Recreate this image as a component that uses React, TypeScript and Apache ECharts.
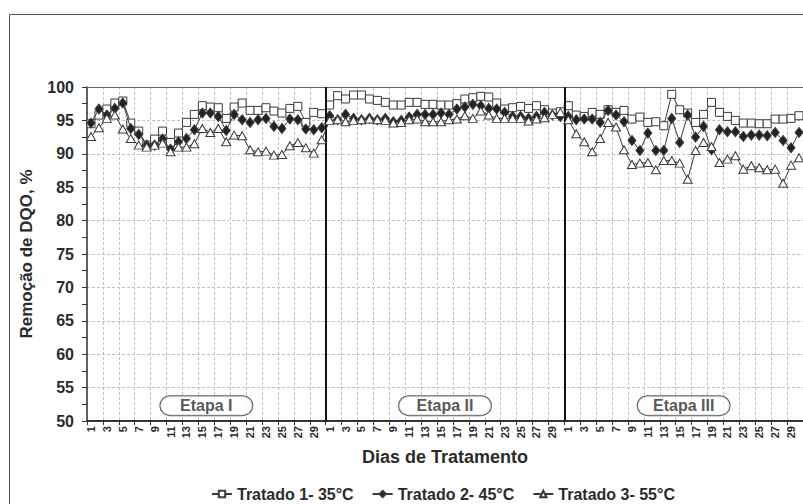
import React, { useEffect, useRef } from 'react';
import * as echarts from 'echarts';

const DAYS = ['1','2','3','4','5','6','7','8','9','10','11','12','13','14','15','16','17','18','19','20','21','22','23','24','25','26','27','28','29','30'];
const CATEGORIES = [...DAYS, ...DAYS, ...DAYS];

const Y_MIN = 50;
const Y_MAX = 100;
const Y_STEP = 5;

const SERIES_NAMES = ['Tratado 1- 35°C', 'Tratado 2- 45°C', 'Tratado 3- 55°C'];
const STAGE_NAMES = ['Etapa I', 'Etapa II', 'Etapa III'];
const STAGE_CENTERS = [15, 45, 75];
const STAGE_BOUNDARIES = [30, 60];
const STAGE_LABEL_Y = 52.3;

// Tratado 1 - 35 °C (squares)
const T1_ETAPA1 = [94.5, 95.8, 96.7, 97.6, 97.9, 94.6, 93.4, 91.3, 92.2, 93.4, 91.7, 93.1, 94.7, 95.9, 97.2, 97.0, 96.9, 95.3, 97.0, 97.6, 96.5, 96.5, 96.9, 96.4, 96.1, 96.8, 97.1, 94.7, 96.2, 96.0];
const T1_ETAPA2 = [97.3, 98.7, 98.2, 98.8, 98.8, 98.2, 98.0, 97.7, 97.3, 97.3, 97.7, 97.7, 97.4, 97.4, 97.3, 97.3, 97.5, 98.2, 98.4, 98.6, 98.5, 97.6, 96.7, 96.9, 97.1, 96.8, 97.2, 96.6, 96.1, 96.3];
const T1_ETAPA3 = [97.2, 95.8, 95.6, 96.2, 95.9, 96.6, 96.2, 96.5, 95.2, 95.5, 94.7, 94.8, 94.2, 98.9, 96.6, 96.1, 94.7, 95.9, 97.7, 96.2, 95.6, 95.0, 94.6, 94.6, 94.5, 94.5, 95.2, 95.2, 95.3, 95.7];

// Tratado 2 - 45 °C (diamonds)
const T2_ETAPA1 = [94.6, 96.7, 95.8, 96.8, 97.6, 93.8, 92.9, 91.3, 91.3, 92.2, 90.7, 91.8, 92.3, 93.6, 96.1, 96.1, 95.6, 93.5, 95.9, 95.1, 94.7, 95.1, 95.3, 94.1, 93.8, 95.2, 95.1, 93.7, 93.6, 93.9];
const T2_ETAPA2 = [95.7, 95.1, 95.9, 95.3, 95.1, 95.3, 95.1, 95.3, 94.8, 95.0, 95.5, 95.9, 95.9, 95.9, 96.1, 95.9, 96.7, 97.0, 97.4, 97.2, 96.8, 96.7, 96.2, 95.6, 95.6, 95.3, 95.6, 96.2, 95.8, 95.6];
const T2_ETAPA3 = [95.6, 95.1, 95.2, 95.2, 94.7, 96.5, 95.8, 94.8, 92.0, 90.5, 93.1, 90.5, 90.5, 95.3, 91.7, 95.8, 92.5, 94.1, 90.6, 93.6, 93.3, 93.3, 92.6, 92.8, 92.8, 92.7, 93.2, 92.0, 90.9, 93.2];

// Tratado 3 - 55 °C (triangles)
const T3_ETAPA1 = [92.6, 93.9, 95.3, 95.8, 93.7, 92.3, 91.3, 91.0, 91.3, 91.6, 90.3, 91.0, 91.0, 91.5, 93.8, 93.2, 93.8, 91.8, 92.8, 92.7, 90.6, 90.3, 90.4, 89.8, 89.9, 91.2, 91.7, 90.9, 90.1, 92.1];
const T3_ETAPA2 = [95.0, 95.1, 94.8, 95.0, 95.1, 95.2, 95.1, 95.0, 94.6, 94.7, 95.1, 95.2, 94.8, 94.8, 94.8, 95.1, 95.2, 95.7, 95.3, 96.4, 95.8, 95.3, 95.3, 95.3, 95.3, 94.9, 95.2, 95.4, 95.9, 96.2];
const T3_ETAPA3 = [95.1, 93.0, 91.8, 90.3, 92.3, 94.7, 94.0, 90.6, 88.4, 88.6, 88.7, 87.6, 89.0, 89.0, 88.6, 86.2, 90.5, 91.7, 91.1, 88.7, 89.2, 89.7, 87.7, 88.2, 87.9, 87.6, 87.7, 85.6, 88.3, 89.4];

const T1 = [...T1_ETAPA1, ...T1_ETAPA2, ...T1_ETAPA3];
const T2 = [...T2_ETAPA1, ...T2_ETAPA2, ...T2_ETAPA3];
const T3 = [...T3_ETAPA1, ...T3_ETAPA2, ...T3_ETAPA3];

const FONT = '"Liberation Sans", Arial, Helvetica, sans-serif';
const TEXT = '#2b2b2b';
const LINE = '#3a3a3a';
const GRID = '#c9bcbc';

export default function App() {
  const ref = useRef<HTMLDivElement>(null);
  useEffect(() => {
    if (!ref.current) return;
    const chart = echarts.init(ref.current, null, { renderer: 'svg' });
    const lineSeries = (name: string, data: number[], symbol: string, size: any, fill: string, z: number) => ({
      type: 'line',
      name,
      data,
      xAxisIndex: 0,
      yAxisIndex: 0,
      symbol,
      symbolSize: size,
      showAllSymbol: true,
      z,
      lineStyle: { color: LINE, width: 1 },
      itemStyle: { color: fill, borderColor: LINE, borderWidth: 1 },
      emphasis: { disabled: true },
    });
    const option: any = {
      animation: false,
      backgroundColor: '#ffffff',
      textStyle: { fontFamily: FONT },
      graphic: [
        {
          type: 'rect',
          left: 7,
          top: 12,
          shape: { x: 0, y: 0, width: 900, height: 600 },
          style: { fill: 'none', stroke: '#555', lineWidth: 1 },
          silent: true,
          z: -1,
        },
      ],
      grid: { left: 87, right: 0, top: 87, bottom: 83, containLabel: false },
      legend: {
        left: 206,
        top: 481,
        itemWidth: 20,
        itemHeight: 8,
        itemGap: 18,
        data: SERIES_NAMES,
        textStyle: { fontFamily: FONT, fontSize: 16, fontWeight: 'bold', color: TEXT },
      },
      xAxis: [
        {
          type: 'category',
          data: CATEGORIES,
          boundaryGap: true,
          name: 'Dias de Tratamento',
          nameLocation: 'middle',
          nameGap: 27,
          nameMoveOverlap: false,
          nameTextStyle: { fontFamily: FONT, fontSize: 18, fontWeight: 'bold', color: TEXT },
          axisLine: { show: true, lineStyle: { color: '#333', width: 2 } },
          axisTick: { show: true, interval: 1, length: 4, lineStyle: { color: '#333', width: 1 } },
          axisLabel: {
            show: true,
            interval: 1,
            rotate: 90,
            margin: 5,
            fontSize: 11,
            fontWeight: 'bold',
            color: TEXT,
            fontFamily: FONT,
          },
          splitLine: { show: true, interval: 1, lineStyle: { color: GRID, type: [3, 2], width: 1 } },
        },
        {
          type: 'value',
          position: 'top',
          min: 0,
          max: CATEGORIES.length,
          show: true,
          axisLine: { show: true, onZero: false, lineStyle: { color: '#666', width: 1 } },
          axisTick: { show: false },
          axisLabel: { show: false },
          splitLine: { show: false },
        },
      ],
      yAxis: [
        {
          type: 'value',
          min: Y_MIN,
          max: Y_MAX,
          interval: Y_STEP,
          name: 'Remoção de DQO, %',
          nameLocation: 'middle',
          nameGap: 52,
          nameMoveOverlap: false,
          nameTextStyle: { fontFamily: FONT, fontSize: 17, fontWeight: 'bold', color: TEXT },
          axisLine: { show: true, onZero: false, lineStyle: { color: '#333', width: 1.5 } },
          axisTick: { show: true, inside: false, length: 5, lineStyle: { color: '#333', width: 1 } },
          minorTick: { show: true, splitNumber: 2, length: 5, lineStyle: { color: '#333', width: 1 } },
          axisLabel: { fontSize: 16, fontWeight: 'bold', color: TEXT, fontFamily: FONT, margin: 13 },
          splitLine: { show: true, lineStyle: { color: GRID, type: [3, 2], width: 1 } },
        },
      ],
      series: [
        lineSeries(SERIES_NAMES[0], T1, 'rect', 8, '#ffffff', 3),
        lineSeries(SERIES_NAMES[1], T2, 'diamond', [8, 10], '#222222', 4),
        lineSeries(SERIES_NAMES[2], T3, 'triangle', [9, 8], '#ffffff', 5),
        {
          type: 'scatter',
          name: 'etapas',
          xAxisIndex: 1,
          yAxisIndex: 0,
          symbolSize: 1,
          silent: true,
          z: 6,
          itemStyle: { color: 'transparent' },
          data: STAGE_NAMES.map((n, i) => ({ name: n, value: [STAGE_CENTERS[i], STAGE_LABEL_Y] })),
          label: {
            show: true,
            position: 'inside',
            formatter: '{b}',
            fontFamily: FONT,
            fontSize: 16,
            fontWeight: 'bold',
            color: TEXT,
            backgroundColor: '#ffffff',
            borderColor: '#333',
            borderWidth: 1,
            borderRadius: 10,
            width: 92,
            align: 'center',
            verticalAlign: 'middle',
            lineHeight: 17,
            padding: [1, 0, 1, 0],
          },
          markLine: {
            silent: true,
            symbol: 'none',
            label: { show: false },
            lineStyle: { color: '#111', width: 2, type: 'solid' },
            data: STAGE_BOUNDARIES.map((b) => ({ xAxis: b })),
          },
        },
      ],
    };
    chart.setOption(option);
    return () => chart.dispose();
  }, []);
  return (
    <div
      ref={ref}
      style={{ position: 'fixed', left: 0, top: 0, width: 803, height: 504, background: '#fff' }}
    />
  );
}
